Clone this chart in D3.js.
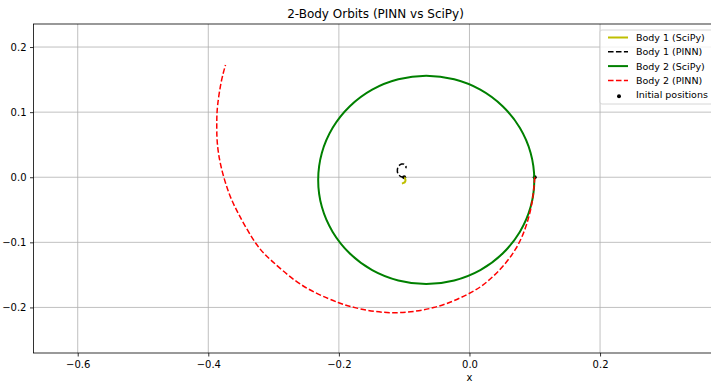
<!DOCTYPE html>
<html>
<head>
<meta charset="utf-8">
<script src="https://cdn.jsdelivr.net/npm/d3@7"></script>
<style>
  html, body { margin: 0; padding: 0; background: #fff; }
  svg { display: block; font-family: "DejaVu Sans", sans-serif; }
</style>
</head>
<body>
<svg id="chart" width="711" height="382"></svg>
<script>
// Orbit traces in (x, y) data units
const body1SciPy = [
  [-0.1000, 0.0000], [-0.0982, -0.0030], [-0.0984, -0.0065],
  [-0.1008, -0.0088], [-0.1035, -0.0095]
];
const body1PINN = [
  [-0.1000, 0.0000], [-0.1050, 0.0010], [-0.1094, 0.0052], [-0.1104, 0.0117],
  [-0.1084, 0.0172], [-0.1040, 0.0202], [-0.0995, 0.0198], [-0.0972, 0.0165],
  [-0.0975, 0.0138]
];
const body2SciPy = [
  [0.0993, -0.0041], [0.0937, -0.0455], [0.0771, -0.0841], [0.0508, -0.1172],
  [0.0166, -0.1427], [-0.0234, -0.1586], [-0.0662, -0.1641], [-0.1090, -0.1586],
  [-0.1490, -0.1427], [-0.1832, -0.1172], [-0.2095, -0.0841], [-0.2261, -0.0455],
  [-0.2317, -0.0041], [-0.2261, 0.0373], [-0.2095, 0.0759], [-0.1832, 0.1090],
  [-0.1490, 0.1345], [-0.1090, 0.1504], [-0.0662, 0.1559], [-0.0234, 0.1504],
  [0.0166, 0.1345], [0.0508, 0.1090], [0.0771, 0.0759], [0.0937, 0.0373]
];
const body2PINN = [
  [0.1000, 0.0000], [0.0934, -0.0507], [0.0705, -0.1106], [0.0309, -0.1571],
  [-0.0032, -0.1800], [-0.0548, -0.2002], [-0.1218, -0.2080], [-0.1754, -0.2003],
  [-0.2011, -0.1925], [-0.2323, -0.1791], [-0.2676, -0.1582], [-0.3020, -0.1292],
  [-0.3270, -0.1018], [-0.3541, -0.0556], [-0.3700, -0.0197], [-0.3809, 0.0184],
  [-0.3863, 0.0542], [-0.3870, 0.0846], [-0.3857, 0.1104], [-0.3803, 0.1458],
  [-0.3736, 0.1725]
];
const initialPositions = [[-0.1, 0.0], [0.1, 0.0]];

const xTicks = [-0.6, -0.4, -0.2, 0.0, 0.2];
const yTicks = [-0.2, -0.1, 0.0, 0.1, 0.2];
const xDomain = [-0.6677, 0.386];
const yDomain = [-0.2700, 0.2354];

const legendItems = [
  { label: "Body 1 (SciPy)", color: "#bfbf00", dash: null, width: 2, type: "line" },
  { label: "Body 1 (PINN)", color: "#000000", dash: "5.55,2.4", width: 1.5, type: "line" },
  { label: "Body 2 (SciPy)", color: "#008000", dash: null, width: 2, type: "line" },
  { label: "Body 2 (PINN)", color: "#ff0000", dash: "5.55,2.4", width: 1.5, type: "line" },
  { label: "Initial positions", color: "#000000", type: "dot" }
];

const plotLeft = 33.5, plotRight = 721.5, plotTop = 24, plotBottom = 353;
const svg = d3.select("#chart");
const x = d3.scaleLinear().domain(xDomain).range([plotLeft, plotRight]);
const y = d3.scaleLinear().domain(yDomain).range([plotBottom, plotTop]);
const fmt = d3.format(".1f");

svg.append("rect").attr("width", 711).attr("height", 382).attr("fill", "#fff");

svg.append("defs").append("clipPath").attr("id", "plotArea")
  .append("rect").attr("x", plotLeft).attr("y", plotTop)
  .attr("width", plotRight - plotLeft).attr("height", plotBottom - plotTop);

// grid
const grid = svg.append("g").attr("stroke", "#b0b0b0").attr("stroke-width", 0.8);
grid.selectAll("line.gx").data(xTicks).join("line").attr("class", "gx")
  .attr("x1", d => x(d)).attr("x2", d => x(d))
  .attr("y1", plotTop).attr("y2", plotBottom);
grid.selectAll("line.gy").data(yTicks).join("line").attr("class", "gy")
  .attr("x1", plotLeft).attr("x2", plotRight)
  .attr("y1", d => y(d)).attr("y2", d => y(d));

const plot = svg.append("g").attr("clip-path", "url(#plotArea)");

// initial position markers sit underneath the traces
plot.selectAll("circle.init").data(initialPositions).join("circle")
  .attr("class", "init")
  .attr("cx", d => x(d[0])).attr("cy", d => y(d[1])).attr("r", 2)
  .attr("fill", "#000");

const openLine = d3.line().x(d => x(d[0])).y(d => y(d[1])).curve(d3.curveNatural);
const closedLine = d3.line().x(d => x(d[0])).y(d => y(d[1])).curve(d3.curveCatmullRomClosed);

plot.append("path").attr("d", openLine(body1SciPy))
  .attr("fill", "none").attr("stroke", "#bfbf00").attr("stroke-width", 2);
plot.append("path").attr("d", openLine(body1PINN))
  .attr("fill", "none").attr("stroke", "#000").attr("stroke-width", 1.5)
  .attr("stroke-dasharray", "5.55,2.4");
plot.append("path").attr("d", closedLine(body2SciPy))
  .attr("fill", "none").attr("stroke", "#008000").attr("stroke-width", 2);
plot.append("path").attr("d", openLine(body2PINN))
  .attr("fill", "none").attr("stroke", "#ff0000").attr("stroke-width", 1.5)
  .attr("stroke-dasharray", "5.55,2.4");

// axes
const xAxis = svg.append("g").attr("transform", `translate(0,${plotBottom})`)
  .call(d3.axisBottom(x).tickValues(xTicks).tickFormat(fmt).tickSizeOuter(0).tickSize(3.5).tickPadding(4.5));
const yAxis = svg.append("g").attr("transform", `translate(${plotLeft},0)`)
  .call(d3.axisLeft(y).tickValues(yTicks).tickFormat(fmt).tickSizeOuter(0).tickSize(3.5).tickPadding(3.5));
[xAxis, yAxis].forEach(a => {
  a.select(".domain").remove();
  a.selectAll(".tick line").attr("stroke", "#000").attr("stroke-width", 0.8);
  a.selectAll(".tick text").attr("font-size", 10).attr("fill", "#000")
    .attr("font-family", "DejaVu Sans");
});

// spines
svg.append("rect").attr("x", plotLeft).attr("y", plotTop)
  .attr("width", plotRight - plotLeft).attr("height", plotBottom - plotTop)
  .attr("fill", "none").attr("stroke", "#000").attr("stroke-width", 0.8);

// labels
svg.append("text").attr("x", (plotLeft + plotRight) / 2 - 2).attr("y", 17.5)
  .attr("text-anchor", "middle").attr("font-size", 12).text("2-Body Orbits (PINN vs SciPy)");
svg.append("text").attr("x", x(0)).attr("y", 381)
  .attr("text-anchor", "middle").attr("font-size", 10).text("x");

// legend
const lg = svg.append("g").attr("transform", "translate(600,30)");
lg.append("rect").attr("width", 122).attr("height", 74).attr("rx", 2)
  .attr("fill", "#fff").attr("fill-opacity", 0.8)
  .attr("stroke", "#cccccc").attr("stroke-width", 0.8);
legendItems.forEach((it, i) => {
  const cy = 7.5 + i * 14.3;
  const row = lg.append("g").attr("transform", `translate(0,${cy})`);
  if (it.type === "line") {
    row.append("line").attr("x1", 8).attr("x2", 28).attr("y1", 0).attr("y2", 0)
      .attr("stroke", it.color).attr("stroke-width", it.width)
      .attr("stroke-dasharray", it.dash);
  } else {
    row.append("circle").attr("cx", 19).attr("cy", 1.5).attr("r", 2).attr("fill", it.color);
  }
  row.append("text").attr("x", 36).attr("y", 3.5).attr("font-size", 9.5).text(it.label);
});
</script>
</body>
</html>
